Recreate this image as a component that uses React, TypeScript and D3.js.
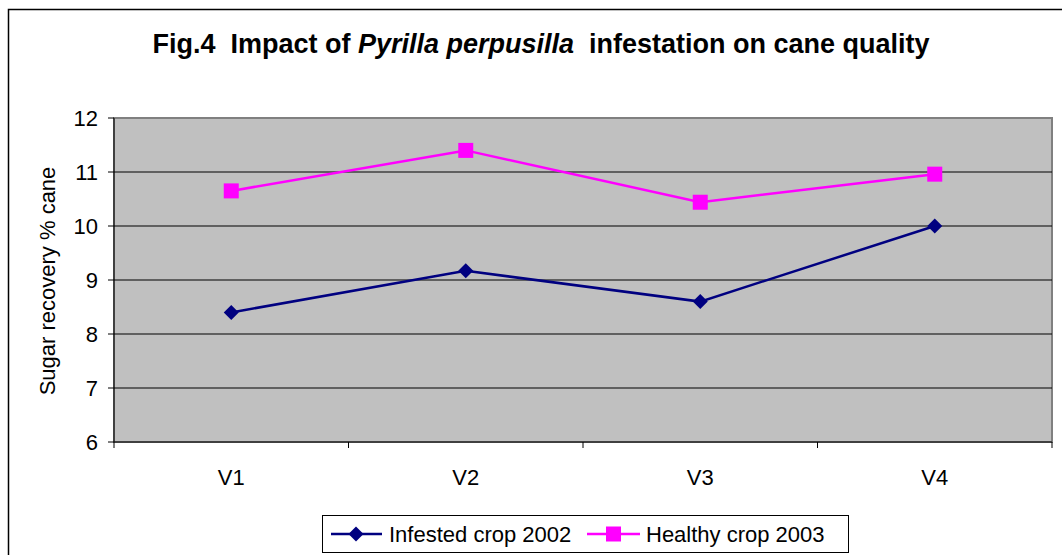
import React from "react";
import * as d3 from "d3";

const categories = ["V1", "V2", "V3", "V4"];
const infested = [8.4, 9.17, 8.6, 10.0];
const healthy = [10.65, 11.4, 10.44, 10.96];
const yTicks = [6, 7, 8, 9, 10, 11, 12];

export default function App() {
  const W = 1062, H = 555;
  const left = 114, right = 1052, top = 118, bottom = 442;
  const x = d3.scaleBand<string>().domain(categories).range([left, right]);
  const y = d3.scaleLinear().domain([6, 12]).range([bottom, top]);
  const line = d3
    .line<number>()
    .x((_, i) => (x(categories[i]) as number) + x.bandwidth() / 2)
    .y((d) => y(d));
  const cx = (i: number) => (x(categories[i]) as number) + x.bandwidth() / 2;
  const font = "Arial, 'Liberation Sans', sans-serif";
  const bounds = [...categories.map((c) => x(c) as number), right];
  const fs = 22;
  return (
    <svg width={W} height={H} style={{ position: "absolute", left: 0, top: 0 }} fontFamily={font}>
      <rect x={0} y={0} width={W} height={H} fill="#fff" />
      <path d={`M8.5,${H} L8.5,9.5 L${W},9.5`} fill="none" stroke="#000" strokeWidth={1.5} />
      <text x={541} y={53} textAnchor="middle" fontSize={27} fontWeight="bold" style={{ whiteSpace: "pre" }}>
        <tspan>{"Fig.4  Impact of "}</tspan>
        <tspan fontStyle="italic">{"Pyrilla perpusilla"}</tspan>
        <tspan>{"  infestation on cane quality"}</tspan>
      </text>
      <rect x={left} y={top} width={right - left} height={bottom - top} fill="#c0c0c0" stroke="#808080" strokeWidth={2} />
      {yTicks.filter((t) => t !== 6 && t !== 12).map((t) => (
        <line key={t} x1={left} x2={right} y1={y(t)} y2={y(t)} stroke="#000" strokeWidth={1} />
      ))}
      <line x1={left} x2={left} y1={top} y2={bottom} stroke="#000" strokeWidth={1} />
      <line x1={left} x2={right} y1={bottom} y2={bottom} stroke="#000" strokeWidth={1} />
      {yTicks.map((t) => (
        <g key={t}>
          <line x1={left - 6} x2={left} y1={y(t)} y2={y(t)} stroke="#000" />
          <text x={98} y={y(t) + 8} textAnchor="end" fontSize={fs}>{t}</text>
        </g>
      ))}
      {bounds.map((b, i) => (
        <line key={i} x1={b} x2={b} y1={bottom} y2={bottom + 6} stroke="#000" />
      ))}
      {categories.map((c, i) => (
        <text key={c} x={cx(i)} y={485} textAnchor="middle" fontSize={fs}>{c}</text>
      ))}
      <text transform={`translate(55,281) rotate(-90)`} textAnchor="middle" fontSize={fs}>Sugar recovery % cane</text>
      <path d={line(infested) || ""} fill="none" stroke="#000080" strokeWidth={2.5} />
      <path d={line(healthy) || ""} fill="none" stroke="#ff00ff" strokeWidth={2.5} />
      {infested.map((v, i) => (
        <path key={i} d={`M${cx(i)},${y(v) - 7.5}L${cx(i) + 7.5},${y(v)}L${cx(i)},${y(v) + 7.5}L${cx(i) - 7.5},${y(v)}Z`} fill="#000080" />
      ))}
      {healthy.map((v, i) => (
        <rect key={i} x={cx(i) - 7.5} y={y(v) - 7.5} width={15} height={15} fill="#ff00ff" />
      ))}
      <rect x={322.5} y={515.5} width={526} height={37} fill="#fff" stroke="#000" strokeWidth={1} />
      <line x1={331} x2={382} y1={534} y2={534} stroke="#000080" strokeWidth={2.5} />
      <path d={`M356,526.5L363.5,534L356,541.5L348.5,534Z`} fill="#000080" />
      <text x={389} y={542} fontSize={fs}>Infested crop 2002</text>
      <line x1={587} x2={640} y1={534} y2={534} stroke="#ff00ff" strokeWidth={2.5} />
      <rect x={606} y={526.5} width={15} height={15} fill="#ff00ff" />
      <text x={646} y={542} fontSize={fs}>Healthy crop 2003</text>
    </svg>
  );
}
